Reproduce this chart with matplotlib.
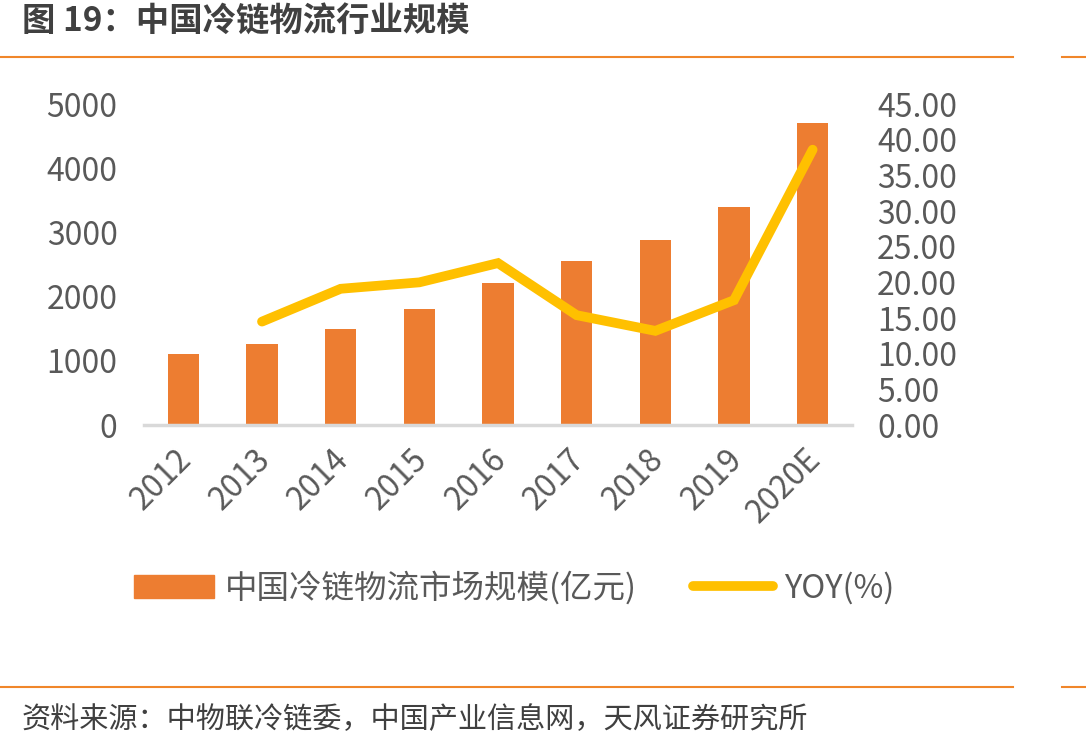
import matplotlib
matplotlib.use("Agg")
import matplotlib.pyplot as plt
import matplotlib.transforms as mtransforms
from matplotlib.patches import Patch
from matplotlib.lines import Line2D

plt.rcParams['font.family'] = ['Noto Sans CJK SC', 'DejaVu Sans']

# 数据
years = ["2012", "2013", "2014", "2015", "2016", "2017", "2018", "2019", "2020E"]
scale = [1100, 1260, 1495, 1805, 2205, 2550, 2885, 3390, 4700]
yoy_years = ["2013", "2014", "2015", "2016", "2017", "2018", "2019", "2020E"]
yoy = [14.5, 19.1, 20.0, 22.7, 15.4, 13.2, 17.5, 38.6]

bar_color = "#ED7D31"
line_color = "#FFC000"
text_color = "#595959"
rule_color = "#F0862A"

fig = plt.figure(figsize=(10.86, 7.5), dpi=100)
ax = fig.add_axes([0.1326, 0.4333, 0.6519, 0.428])
ax2 = ax.twinx()

x = list(range(len(years)))
ax.bar(x, scale, width=0.4, color=bar_color, zorder=2)
ax.set_ylim(0, 5000)
ax.set_yticks(range(0, 5001, 1000))
ax.set_xlim(-0.5, len(years) - 0.5)
ax.set_xticks(x)
ax.set_xticklabels(years, rotation=45, ha="right", rotation_mode="anchor")

xi = [years.index(y) for y in yoy_years]
ax2.plot(xi, yoy, color=line_color, lw=7, solid_capstyle="round",
         solid_joinstyle="miter", zorder=3)
ax2.set_ylim(0, 45)
ax2.set_yticks(range(0, 46, 5))
ax2.set_yticklabels([f"{v:.2f}" for v in range(0, 46, 5)])

for a in (ax, ax2):
    for s in ("top", "left", "right"):
        a.spines[s].set_visible(False)
    a.tick_params(length=0, labelsize=23, labelcolor=text_color)
ax2.spines["bottom"].set_visible(False)
ax.spines["bottom"].set_color("#D9D9D9")
ax.spines["bottom"].set_linewidth(2.5)
ax.tick_params(axis="y", pad=19)
ax.tick_params(axis="x", pad=10)
ax2.tick_params(axis="y", pad=18)

offset = mtransforms.ScaledTranslation(-8 / 100, -4 / 100, fig.dpi_scale_trans)
for lab in ax.get_xticklabels():
    lab.set_transform(lab.get_transform() + offset)

# 图例
handles = [Patch(color=bar_color), Line2D([0], [0], color=line_color, lw=7, solid_capstyle="round")]
fig.legend(handles, ["中国冷链物流市场规模(亿元)", "YOY(%)"], loc="center",
           bbox_to_anchor=(0.4735, 0.216), ncol=2, frameon=False, fontsize=23.4,
           labelcolor=text_color, handlelength=2.45, handletextpad=0.33,
           columnspacing=1.75)

# 标题与来源
fig.text(0.02, 1 - 22 / 750, "图 19：中国冷链物流行业规模", fontsize=24, fontweight="bold",
         color="#404040", va="center", ha="left")
fig.add_artist(Line2D([0, 1013 / 1086], [1 - 57 / 750] * 2, color=rule_color, lw=1.5))
fig.add_artist(Line2D([1062 / 1086, 1], [1 - 57 / 750] * 2, color=rule_color, lw=1.5))
fig.add_artist(Line2D([0, 1013 / 1086], [1 - 687 / 750] * 2, color=rule_color, lw=1.5))
fig.add_artist(Line2D([1062 / 1086, 1], [1 - 687 / 750] * 2, color=rule_color, lw=1.5))
fig.text(0.02, 1 - 720 / 750, "资料来源：中物联冷链委，中国产业信息网，天风证券研究所",
         fontsize=21, color="#404040", va="center", ha="left")

fig.savefig("out.png", dpi=100)
